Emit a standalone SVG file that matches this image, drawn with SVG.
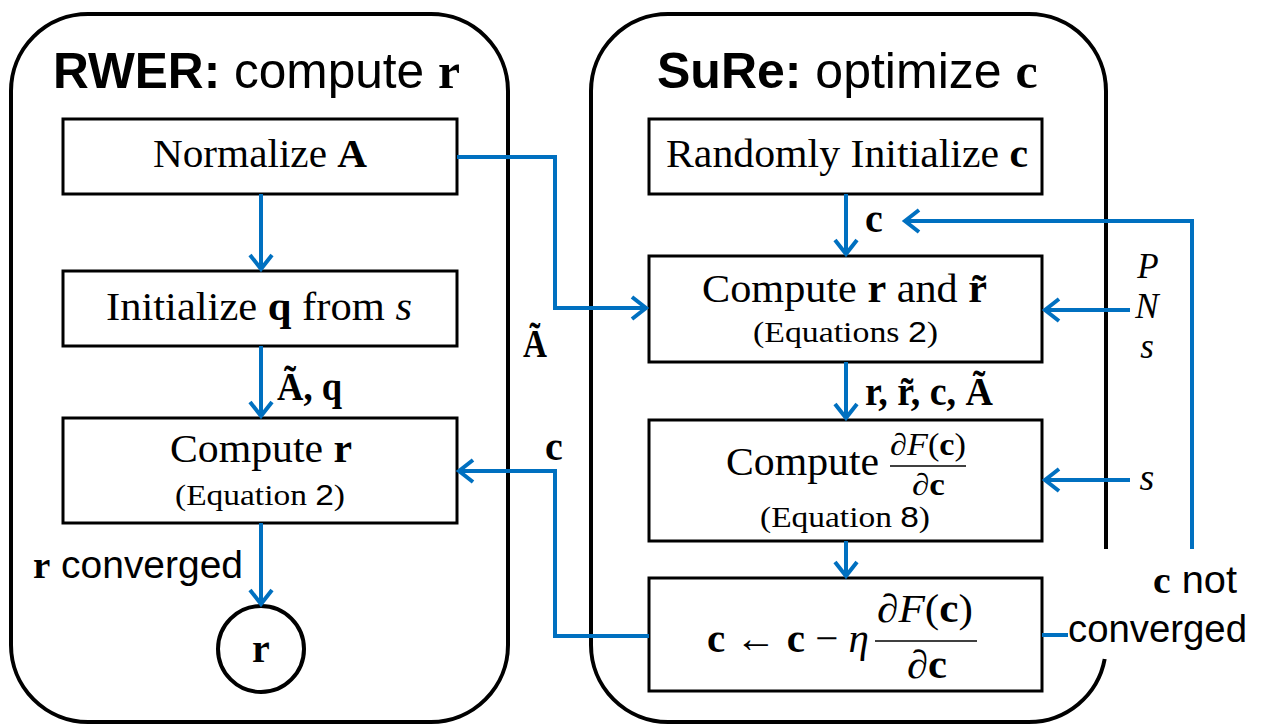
<svg xmlns="http://www.w3.org/2000/svg" width="1264" height="724" viewBox="0 0 1264 724">
<defs>
<style>
.cont{fill:none;stroke:#000;stroke-width:4}
.box{fill:#fff;stroke:#000;stroke-width:3}
.con{fill:none;stroke:#0070C0;stroke-width:4}
.arr{marker-end:url(#ah)}
.sf{font-family:"Liberation Serif","Times New Roman",serif;fill:#000}
.ss{font-family:"Liberation Sans",Arial,sans-serif;fill:#000}
.b{font-weight:bold}
.i{font-style:italic}
.ttl{font-family:"Liberation Sans",Arial,sans-serif;font-size:50px}
.bt{font-size:39px}
.eq{font-size:30px}
.lb{font-size:40px;font-weight:bold}
.fl{stroke:#000;stroke-width:1.6}
</style>
<marker id="ah" markerUnits="userSpaceOnUse" markerWidth="30" markerHeight="30" refX="16" refY="11" orient="auto" overflow="visible">
<path d="M2,0 L16,11 L2,22" fill="none" stroke="#0070C0" stroke-width="4"/>
</marker>
</defs>
<rect width="1264" height="724" fill="#fff"/>

<g id="rwer">
<rect class="cont" x="11" y="14" width="497" height="708" rx="77" ry="77"/>
<text class="ttl" x="53" y="88" textLength="407" lengthAdjust="spacingAndGlyphs"><tspan font-weight="bold">RWER:</tspan> compute <tspan class="sf b">r</tspan></text>
</g>

<g id="sure">
<path class="cont" d="M1104.7,659 A77,77 0 0 1 1029,722 H668 A77,77 0 0 1 591,645 V91 A77,77 0 0 1 668,14 H1029 A77,77 0 0 1 1106,91 V549"/>
<text class="ttl" x="657" y="88"><tspan font-weight="bold">SuRe:</tspan> optimize <tspan class="sf b">c</tspan></text>
</g>

<g id="normalize">
<rect class="box" x="63" y="119" width="394" height="75"/>
<text class="sf bt" x="153" y="167" textLength="214" lengthAdjust="spacingAndGlyphs">Normalize <tspan class="b">A</tspan></text>
</g>

<g id="initq">
<rect class="box" x="63" y="271" width="394" height="75"/>
<text class="sf bt" x="106" y="320" textLength="306" lengthAdjust="spacingAndGlyphs">Initialize <tspan class="b">q</tspan> from <tspan class="i">s</tspan></text>
</g>

<g id="computer">
<rect class="box" x="63" y="418" width="394" height="105"/>
<text class="sf bt" x="170" y="462" textLength="182" lengthAdjust="spacingAndGlyphs">Compute <tspan class="b">r</tspan></text>
<text class="sf eq" x="175" y="505" textLength="170" lengthAdjust="spacingAndGlyphs">(Equation <tspan class="ss">2</tspan>)</text>
</g>

<g id="rout">
<circle cx="261" cy="649" r="43" fill="#fff" stroke="#000" stroke-width="4"/>
<text class="sf lb" x="261" y="662" text-anchor="middle">r</text>
</g>

<g id="randc">
<rect class="box" x="649" y="119" width="393" height="75"/>
<text class="sf bt" x="666" y="167" textLength="362" lengthAdjust="spacingAndGlyphs">Randomly Initialize <tspan class="b">c</tspan></text>
</g>

<g id="computerr">
<rect class="box" x="649" y="256" width="393" height="106"/>
<text class="sf bt" x="702" y="302" textLength="285" lengthAdjust="spacingAndGlyphs">Compute <tspan class="b">r</tspan> and <tspan class="b">r̃</tspan></text>
<text class="sf eq" x="753" y="342" textLength="185" lengthAdjust="spacingAndGlyphs">(Equations <tspan class="ss">2</tspan>)</text>
</g>

<g id="grad">
<rect class="box" x="649" y="420" width="393" height="121"/>
<text class="sf bt" x="726" y="475" textLength="153" lengthAdjust="spacingAndGlyphs">Compute</text>
<text class="sf" font-size="31" x="890" y="455" textLength="76" lengthAdjust="spacingAndGlyphs"><tspan class="i">∂F</tspan>(<tspan class="b">c</tspan>)</text>
<line class="fl" x1="890" y1="466" x2="966" y2="466"/>
<text class="sf" font-size="31" x="912" y="495" textLength="33" lengthAdjust="spacingAndGlyphs"><tspan class="i">∂</tspan><tspan class="b">c</tspan></text>
<text class="sf eq" x="760" y="527" textLength="170" lengthAdjust="spacingAndGlyphs">(Equation <tspan class="ss">8</tspan>)</text>
</g>

<g id="update">
<rect class="box" x="649" y="578" width="393" height="113"/>
<text class="sf" font-size="41" x="707" y="652"><tspan class="b">c</tspan> ← <tspan class="b">c</tspan> − <tspan class="i">η</tspan></text>
<text class="sf" font-size="40" x="877" y="622" textLength="96" lengthAdjust="spacingAndGlyphs"><tspan class="i">∂F</tspan>(<tspan class="b">c</tspan>)</text>
<line class="fl" x1="875" y1="641" x2="977" y2="641"/>
<text class="sf" font-size="40" x="907" y="678" textLength="40" lengthAdjust="spacingAndGlyphs"><tspan class="i">∂</tspan><tspan class="b">c</tspan></text>
</g>

<g id="connectors">
<path class="con arr" d="M261,194 V269"/>
<path class="con arr" d="M261,346 V416"/>
<path class="con arr" d="M261,523 V604"/>
<path class="con arr" d="M457,157 H555 V308 H646"/>
<path class="con arr" d="M649,636 H555 V471 H459"/>
<path class="con arr" d="M846,194 V254"/>
<path class="con arr" d="M846,362 V418"/>
<path class="con arr" d="M846,541 V576"/>
<path class="con" d="M1042,635 H1068"/>
<path class="con arr" d="M1192,549 V221 H905"/>
<path class="con arr" d="M1130,310 H1045"/>
<path class="con arr" d="M1130,480 H1045"/>
</g>

<g id="labels">
<text class="sf lb" x="277" y="400" textLength="65" lengthAdjust="spacingAndGlyphs">Ã, q</text>
<text class="sf lb" x="523" y="357" textLength="24" lengthAdjust="spacingAndGlyphs">Ã</text>
<text class="sf lb" x="545" y="460">c</text>
<text class="sf lb" x="865" y="232">c</text>
<text class="sf lb" x="865" y="405" textLength="128" lengthAdjust="spacingAndGlyphs">r, r̃, c, Ã</text>
<text class="ss" font-size="38" x="33" y="578" textLength="210" lengthAdjust="spacingAndGlyphs"><tspan class="sf b">r</tspan> converged</text>
<text class="sf i" font-size="35" x="1148" y="278" text-anchor="middle">P</text>
<text class="sf i" font-size="35" x="1147" y="318" text-anchor="middle">N</text>
<text class="sf i" font-size="35" x="1147" y="358" text-anchor="middle">s</text>
<text class="sf i" font-size="38" x="1147" y="490" text-anchor="middle">s</text>
<text class="ss" font-size="38" x="1153" y="593" textLength="84" lengthAdjust="spacingAndGlyphs"><tspan class="sf b">c</tspan> not</text>
<text class="ss" font-size="38" x="1068" y="642" textLength="179" lengthAdjust="spacingAndGlyphs">converged</text>
</g>
</svg>
